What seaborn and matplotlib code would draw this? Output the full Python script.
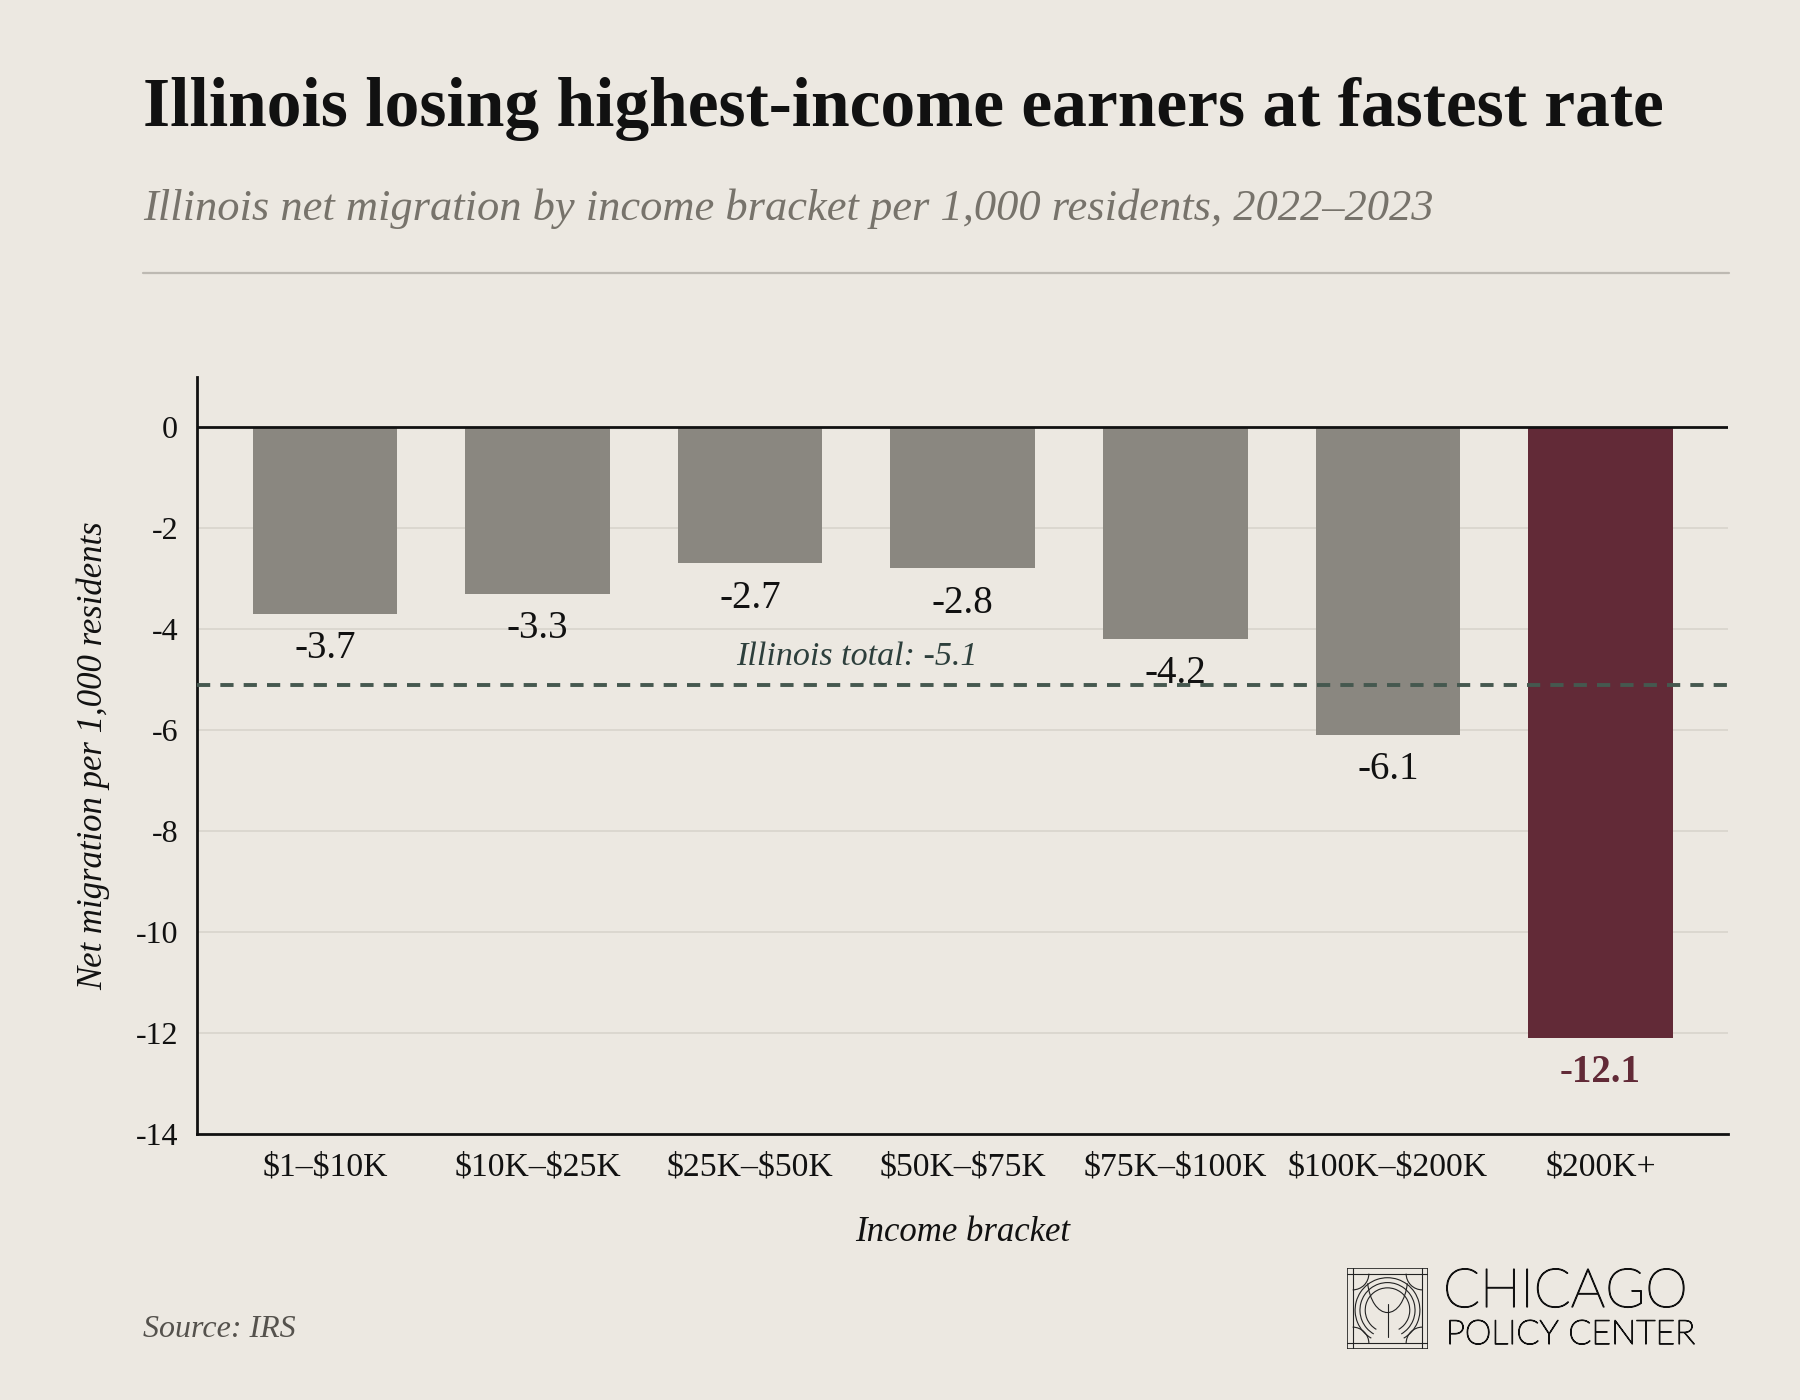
import matplotlib
matplotlib.use("Agg")
import matplotlib.pyplot as plt
import matplotlib.patheffects as pe
import seaborn as sns
import pandas as pd
import numpy as np
from matplotlib.patches import Rectangle, Arc

brackets = ["$1–$10K", "$10K–$25K", "$25K–$50K", "$50K–$75K", "$75K–$100K", "$100K–$200K", "$200K+"]
net_migration = [-3.7, -3.3, -2.7, -2.8, -4.2, -6.1, -12.1]
highlight = [False, False, False, False, False, False, True]
illinois_total = -5.1
y_ticks = [0, -2, -4, -6, -8, -10, -12, -14]

BG = "#ece8e1"
GRAY = "#8a8780"
MAROON = "#622a37"
SERIF = "Liberation Serif"

sns.set_theme(style="white")
plt.rcParams["font.family"] = [SERIF, "DejaVu Serif"]
plt.rcParams["text.parse_math"] = False

df = pd.DataFrame({"bracket": brackets, "value": net_migration,
                   "group": ["hi" if h else "base" for h in highlight]})

fig = plt.figure(figsize=(18, 14), dpi=100, facecolor=BG)
ax = fig.add_axes([0.1097, 0.19, 0.8503, 0.541])
ax.set_facecolor(BG)

sns.barplot(data=df, x="bracket", y="value", hue="group",
            palette={"base": GRAY, "hi": MAROON}, dodge=False,
            width=0.68, legend=False, ax=ax, saturation=1, zorder=3,
            edgecolor="none", linewidth=0)

ax.set_xlim(-0.6, 6.6)
ax.set_ylim(-14, 1)
ax.set_yticks(y_ticks)
ax.set_yticklabels([str(t) for t in y_ticks])
for t in y_ticks[1:-1]:
    ax.axhline(t, color="#d8d4cc", lw=1.2, zorder=1)
ax.axhline(0, color="#111111", lw=2.0, zorder=4)

for s in ["top", "right"]:
    ax.spines[s].set_visible(False)
for s in ["left", "bottom"]:
    ax.spines[s].set_color("#111111")
    ax.spines[s].set_linewidth(2.0)

ax.tick_params(axis="both", length=0, colors="#111111")
ax.tick_params(axis="y", pad=14, labelsize=23)
ax.tick_params(axis="x", pad=13, labelsize=24.3)

ax.set_xlabel("Income bracket", fontsize=25, style="italic", color="#111111", labelpad=24)
ax.set_ylabel("Net migration per 1,000 residents", fontsize=25, style="italic",
              color="#111111", labelpad=18)

# Illinois total line
ax.axhline(illinois_total, color="#45584f", lw=2.8, dashes=(3.4, 2.6), zorder=5)
ax.text(2.5, illinois_total + 0.56, f"Illinois total: {illinois_total}", ha="center", va="center",
        fontsize=24.5, style="italic", color="#2d3f3c", zorder=6)

# value labels
for i, (v, h) in enumerate(zip(net_migration, highlight)):
    ax.annotate(f"{v}", xy=(i, v), xytext=(0, -25), textcoords="offset points",
                ha="center", va="center", fontsize=28,
                fontweight="bold" if h else "normal",
                color=MAROON if h else "#111111", zorder=7)

# title block
fig.text(0.0797, 0.91, "Illinois losing highest-income earners at fastest rate",
         fontsize=50, fontweight="bold", color="#111111", ha="left", va="baseline")
fig.text(0.0797, 0.843, "Illinois net migration by income bracket per 1,000 residents, 2022–2023",
         fontsize=32, style="italic", color="#77736b", ha="left", va="baseline")
fig.add_artist(plt.Line2D([0.0797, 0.9605], [0.805, 0.805], color="#bdb9b2", lw=1.6,
                          transform=fig.transFigure))

fig.text(0.0797, 0.045, "Source: IRS", fontsize=23, style="italic", color="#55524d",
         ha="left", va="baseline")

# logo
lax = fig.add_axes([1347 / 1800, 1 - 1349 / 1400, 81 / 1800, 81 / 1400])
lax.set_xlim(0, 1)
lax.set_ylim(0, 1)
lax.axis("off")
lc = "#222222"
lax.add_patch(Rectangle((0, 0), 1, 1, fill=False, ec=lc, lw=1.2))
for p in [0.07, 0.93]:
    lax.plot([p, p], [0, 1], color=lc, lw=0.8)
    lax.plot([0, 1], [p, p], color=lc, lw=0.8)
for (cx, cy, a1, a2) in [(0.07, 0.07, 0, 90), (0.93, 0.07, 90, 180),
                         (0.07, 0.93, 270, 360), (0.93, 0.93, 180, 270)]:
    lax.add_patch(Arc((cx, cy), 0.4, 0.4, theta1=a1, theta2=a2, color=lc, lw=0.8))
for r in [0.55, 0.68, 0.8]:
    lax.add_patch(Arc((0.5, 0.48), r, r, theta1=-60, theta2=240, color=lc, lw=0.8))
lax.add_patch(Arc((0.5, 0.9), 0.5, 0.9, theta1=200, theta2=340, color=lc, lw=0.8))
lax.plot([0.5, 0.5], [0.15, 0.55], color=lc, lw=0.8)

thick = [pe.withStroke(linewidth=0.9, foreground="#111111")]
fig.text(1443 / 1800, 1 - 1307 / 1400, "CHICAGO", fontsize=39, family=["Lato", "DejaVu Sans"],
         fontweight="light", color="#111111", ha="left", va="baseline", path_effects=thick)
fig.text(1446 / 1800, 1 - 1344 / 1400, "POLICY CENTER", fontsize=24.3, family=["Lato", "DejaVu Sans"],
         fontweight="light", color="#111111", ha="left", va="baseline", path_effects=thick)

fig.savefig("out.png", dpi=100, facecolor=BG)
